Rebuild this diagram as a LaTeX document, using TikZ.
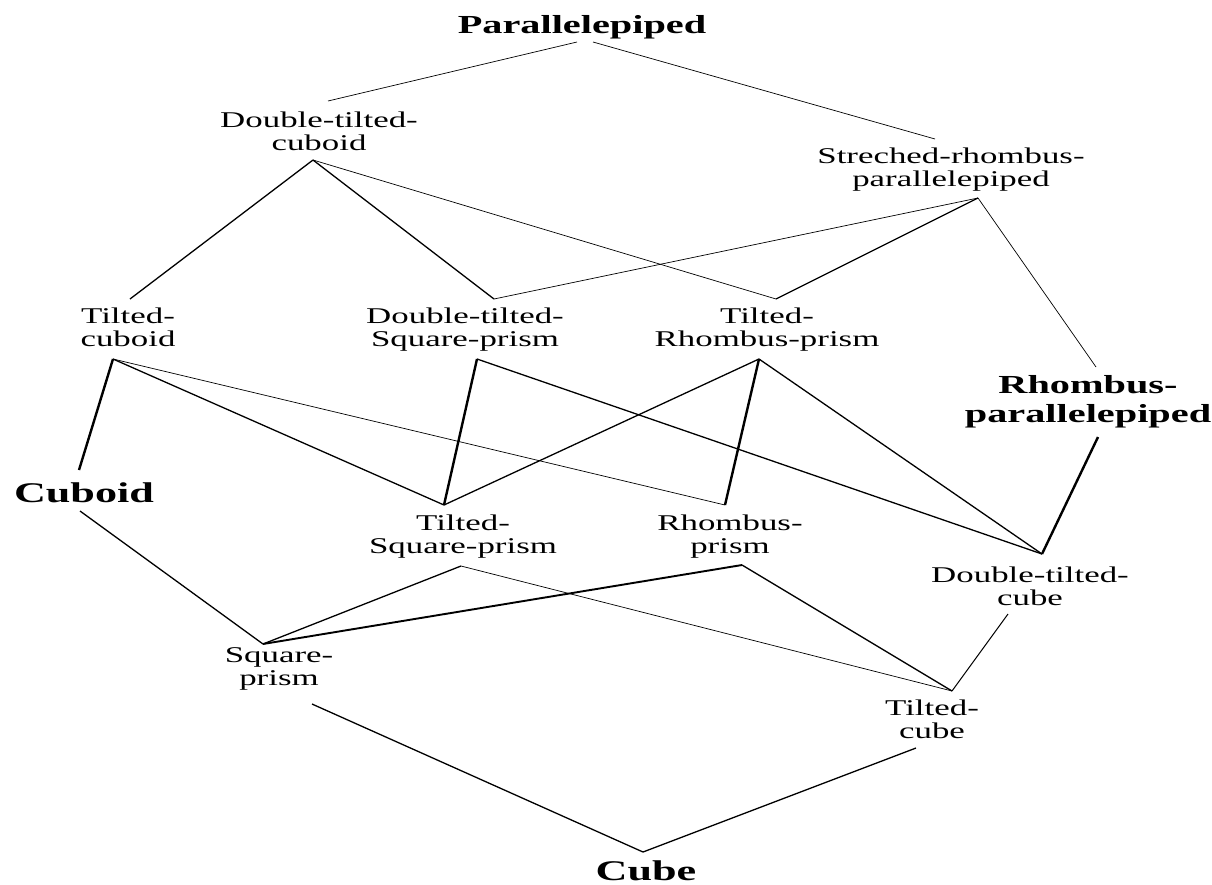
\documentclass[tikz,border=0pt]{standalone}
\usepackage{fontspec}
\setmainfont{Liberation Serif}
\newfontfamily\wreg[FakeStretch=1.55]{Liberation Serif}
\newcommand\twoline[2]{\begin{tabular}[t]{@{}c@{}}#1\\#2\end{tabular}}
\tikzset{
  lab/.style={anchor=base, inner sep=0pt, font=\wreg\fontsize{22.5}{23.5}\selectfont},
  bigl/.style={anchor=base, inner sep=0pt, font=\wreg\bfseries\fontsize{26}{29}\selectfont},
  hugel/.style={anchor=base, inner sep=0pt, font=\wreg\bfseries\fontsize{28.5}{31}\selectfont},
  edgeA/.style={line width=0.7pt},
  edgeB/.style={line width=1.3pt},
  edgeC/.style={line width=2.4pt},
}
\begin{document}
\begin{tikzpicture}[x=1pt,y=-1pt]
\useasboundingbox (0,0) rectangle (1212,884);
% labels
\node[bigl] (par) at (582,33) {Parallelepiped};
\node[lab] (dtc) at (319,127) {\twoline{Double-tilted-}{cuboid}};
\node[lab] (srp) at (951,163) {\twoline{Streched-rhombus-}{parallelepiped}};
\node[lab] (tc) at (128,323) {\twoline{Tilted-}{cuboid}};
\node[lab] (dtsp) at (465,323) {\twoline{Double-tilted-}{Square-prism}};
\node[lab] (trp) at (767,323) {\twoline{Tilted-}{Rhombus-prism}};
\node[bigl] (rp) at (1088,393) {\twoline{Rhombus-}{parallelepiped}};
\node[hugel] (cuboid) at (84,502) {Cuboid};
\node[lab] (tsp) at (463,530) {\twoline{Tilted-}{Square-prism}};
\node[lab] (rhp) at (730,530) {\twoline{Rhombus-}{prism}};
\node[lab] (dtcube) at (1030,582) {\twoline{Double-tilted-}{cube}};
\node[lab] (sp) at (279,662) {\twoline{Square-}{prism}};
\node[lab] (tcube) at (932,715) {\twoline{Tilted-}{cube}};
\node[hugel] (cube) at (646,880) {Cube};
% ports
\coordinate (parL) at (577,42);
\coordinate (parR) at (593,42);
\coordinate (dtcT) at (328,101);
\coordinate (dtcB) at (313,160);
\coordinate (srpT) at (935,139);
\coordinate (srpB) at (978,198);
\coordinate (tcT) at (130,299);
\coordinate (tcB) at (113,359);
\coordinate (dtspT) at (494,299);
\coordinate (dtspB) at (477,359);
\coordinate (trpT) at (776,299);
\coordinate (trpB) at (759,359);
\coordinate (rpT) at (1096,367);
\coordinate (rpB) at (1098,437);
\coordinate (cuboidT) at (79,470);
\coordinate (cuboidB) at (80,511);
\coordinate (tspT) at (444,505);
\coordinate (tspB) at (461,566);
\coordinate (rhpT) at (725,505);
\coordinate (rhpB) at (742,565);
\coordinate (dtcubeT) at (1042,554);
\coordinate (dtcubeB) at (1008,614);
\coordinate (spT) at (263,644);
\coordinate (spB) at (312,704);
\coordinate (tcubeT) at (952,691);
\coordinate (tcubeB) at (916,748);
\coordinate (cubeT) at (643,852);
% edges
\draw[edgeA] (parL) -- (dtcT);
\draw[edgeA] (parR) -- (srpT);
\draw[edgeB] (dtcB) -- (tcT);
\draw[edgeB] (dtcB) -- (dtspT);
\draw[edgeA] (dtcB) -- (trpT);
\draw[edgeA] (srpB) -- (dtspT);
\draw[edgeB] (srpB) -- (trpT);
\draw[edgeA] (srpB) -- (rpT);
\draw[edgeC] (tcB) -- (cuboidT);
\draw[edgeB] (tcB) -- (tspT);
\draw[edgeA] (tcB) -- (rhpT);
\draw[edgeC] (dtspB) -- (tspT);
\draw[edgeB] (dtspB) -- (dtcubeT);
\draw[edgeB] (trpB) -- (tspT);
\draw[edgeC] (trpB) -- (rhpT);
\draw[edgeB] (trpB) -- (dtcubeT);
\draw[edgeC] (rpB) -- (dtcubeT);
\draw[edgeB] (cuboidB) -- (spT);
\draw[edgeB] (tspB) -- (spT);
\draw[edgeA] (tspB) -- (tcubeT);
\draw[line width=1.9pt] (rhpB) -- (spT);
\draw[edgeB] (rhpB) -- (tcubeT);
\draw[line width=1pt] (dtcubeB) -- (tcubeT);
\draw[edgeB] (spB) -- (cubeT);
\draw[edgeB] (tcubeB) -- (cubeT);
\end{tikzpicture}
\end{document}
